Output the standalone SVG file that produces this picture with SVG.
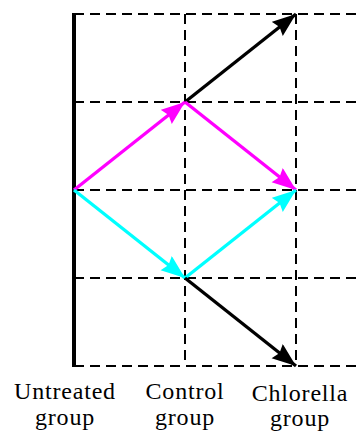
<svg xmlns="http://www.w3.org/2000/svg" width="357" height="432" viewBox="0 0 357 432">
<style>
.grid{stroke:#000;stroke-width:2;stroke-dasharray:10 6;fill:none}
.arr{stroke-width:3.3;fill:none}
.lbl{font-family:"Liberation Serif","Times New Roman",serif;font-size:24px;letter-spacing:0.8px;text-anchor:middle;fill:#000}
</style>
<defs>
<marker id="hk" markerUnits="userSpaceOnUse" markerWidth="26" markerHeight="20" refX="24" refY="9" orient="auto"><path d="M0,0 L24,9 L0,18 L3,9 Z" fill="#000"/></marker>
<marker id="hm" markerUnits="userSpaceOnUse" markerWidth="26" markerHeight="20" refX="24" refY="9" orient="auto"><path d="M0,0 L24,9 L0,18 L3,9 Z" fill="#ff00ff"/></marker>
<marker id="hc" markerUnits="userSpaceOnUse" markerWidth="26" markerHeight="20" refX="24" refY="9" orient="auto"><path d="M0,0 L24,9 L0,18 L3,9 Z" fill="#00ffff"/></marker>
</defs>
<g id="grid">
<line class="grid" x1="74" y1="14" x2="357" y2="14"/>
<line class="grid" x1="74" y1="102" x2="357" y2="102"/>
<line class="grid" x1="74" y1="190" x2="357" y2="190"/>
<line class="grid" x1="74" y1="278" x2="357" y2="278"/>
<line class="grid" x1="74" y1="366" x2="357" y2="366"/>
<line class="grid" x1="185" y1="14" x2="185" y2="366"/>
<line class="grid" x1="296" y1="14" x2="296" y2="366"/>
<line x1="74" y1="13" x2="74" y2="367" stroke="#000" stroke-width="4"/>
</g>
<g id="connectors">
<line class="arr" stroke="#000" x1="185" y1="102" x2="296" y2="14" marker-end="url(#hk)"/>
<line class="arr" stroke="#ff00ff" x1="74" y1="190" x2="185" y2="102" marker-end="url(#hm)"/>
<line class="arr" stroke="#ff00ff" x1="185" y1="102" x2="296" y2="190" marker-end="url(#hm)"/>
<line class="arr" stroke="#00ffff" x1="74" y1="190" x2="185" y2="278" marker-end="url(#hc)"/>
<line class="arr" stroke="#00ffff" x1="185" y1="278" x2="296" y2="190" marker-end="url(#hc)"/>
<line class="arr" stroke="#000" x1="185" y1="278" x2="296" y2="366" marker-end="url(#hk)"/>
</g>
<g id="label-untreated">
<text class="lbl" x="65" y="399">Untreated</text>
<text class="lbl" x="65" y="425">group</text>
</g>
<g id="label-control">
<text class="lbl" x="185" y="399">Control</text>
<text class="lbl" x="185" y="425">group</text>
</g>
<g id="label-chlorella">
<text class="lbl" x="300" y="401">Chlorella</text>
<text class="lbl" x="300" y="426">group</text>
</g>
</svg>
